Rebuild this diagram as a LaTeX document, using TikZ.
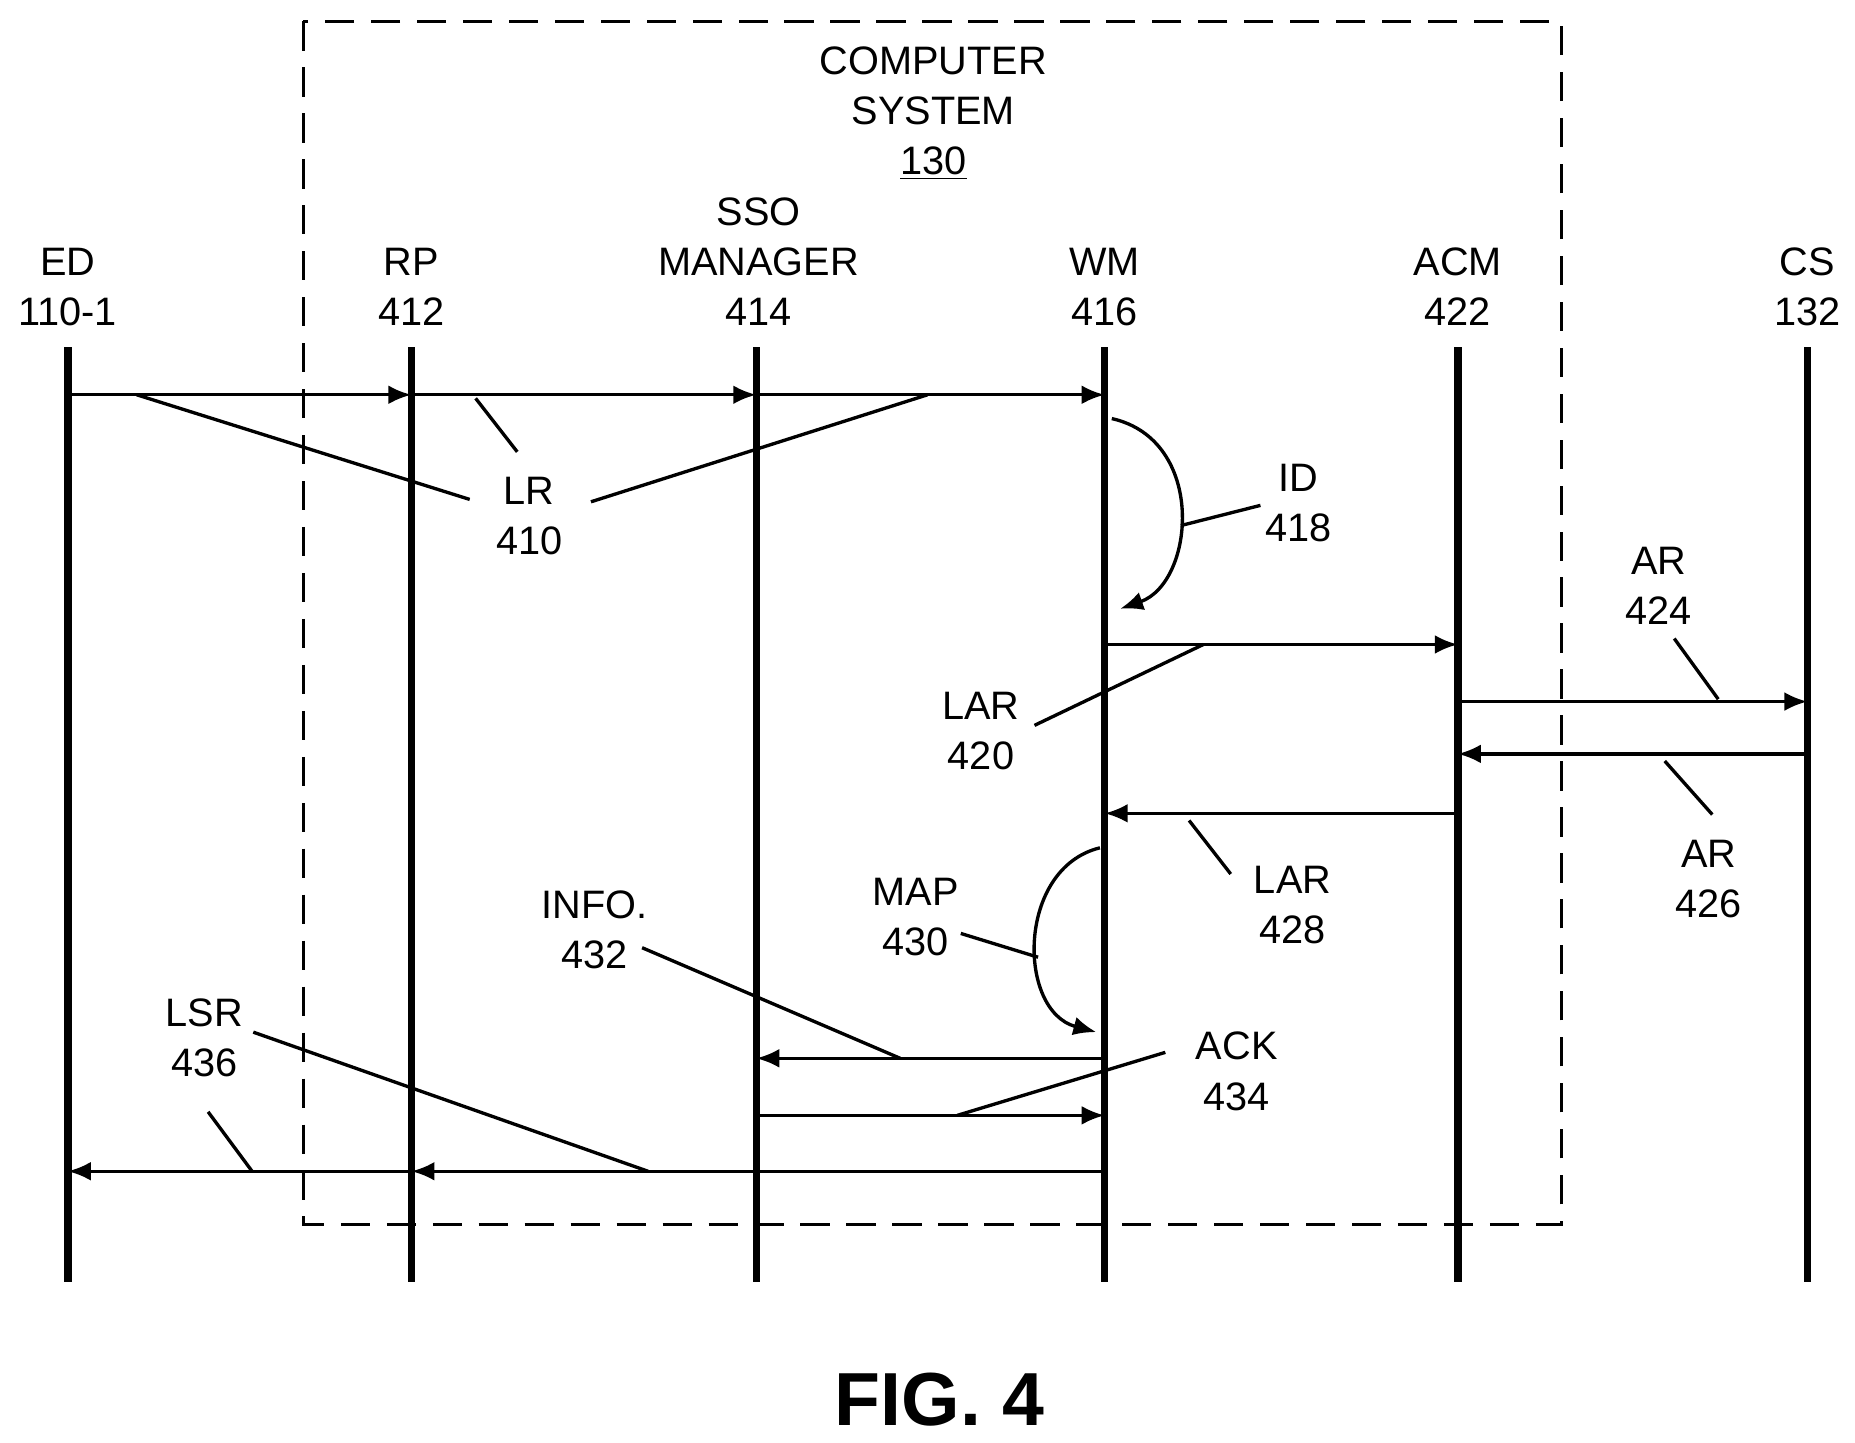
\documentclass[tikz,border=0pt]{standalone}
\usepackage{fontspec}
\setmainfont{Liberation Sans}
\usetikzlibrary{arrows.meta}
\begin{document}
\begin{tikzpicture}[x=0.02cm,y=-0.02cm,
  every node/.style={font=\fontsize{19}{24}\selectfont, align=center},
  life/.style={line width=3.6pt},
  msg/.style={line width=1.6pt, -{Latex[length=11pt,width=9pt]}},
  lead/.style={line width=1.6pt}]
\useasboundingbox (0,0) rectangle (1560,1213);
% frame
\draw[line width=1.6pt, dash pattern=on 14pt off 8pt] (255,18) rectangle (1313,1030);
\node (cs) at (785,95) {COMPUTER\\SYSTEM\\\underline{130}};
% lifelines
\foreach \n/\x/\t in {ed/57/ED\\110-1, rp/346/RP\\412, wm/929/WM\\416, acm/1226/ACM\\422, cs2/1520/CS\\132}{
  \coordinate (\n) at (\x,292);
  \node[anchor=south] at (\x,280) {\t};
  \draw[life] (\n) -- (\x,1078);
}
\coordinate (sso) at (636,292);
\node[anchor=south] at (638,280) {SSO\\MANAGER\\414};
\draw[life] (sso) -- (636,1078);
% messages
\draw[msg] (ed |- 0,332) -- (rp |- 0,332);
\draw[msg] (rp |- 0,332) -- (sso |- 0,332);
\draw[msg] (sso |- 0,332) -- (wm |- 0,332);
\node (lr) at (445,434) {LR\\410};
\draw[lead] (115,332) -- (395,420);
\draw[lead] (400,335) -- (435,380);
\draw[lead] (780,332) -- (497,422);
% ID
\draw[line width=1.6pt, -{Latex[length=11pt,width=9pt]}] (935,352) .. controls (1015,370) and (1005,490) .. (942,512);
\node (id) at (1092,423) {ID\\418};
\draw[lead] (1060,425) -- (993,442);
\draw[msg] (wm |- 0,542) -- (acm |- 0,542);
\node (lar1) at (825,615) {LAR\\420};
\draw[lead] (870,610) -- (1012,542);
\draw[msg] (acm |- 0,590) -- (cs2 |- 0,590);
\node (ar1) at (1395,493) {AR\\424};
\draw[lead] (1408,537) -- (1445,588);
\draw[msg] (cs2 |- 0,634) -- (acm |- 0,634);
\node (ar2) at (1437,739) {AR\\426};
\draw[lead] (1400,640) -- (1440,685);
\draw[msg] (acm |- 0,684) -- (wm |- 0,684);
\node (lar2) at (1087,761) {LAR\\428};
\draw[lead] (1000,690) -- (1035,735);
% MAP
\draw[line width=1.6pt, -{Latex[length=11pt,width=9pt]}] (925,713) .. controls (855,730) and (855,850) .. (922,868);
\node (map) at (770,771) {MAP\\430};
\draw[lead] (808,785) -- (873,805);
\draw[msg] (wm |- 0,890) -- (sso |- 0,890);
\node (info) at (500,782) {INFO.\\432};
\draw[lead] (540,797) -- (757,890);
\draw[msg] (sso |- 0,938) -- (wm |- 0,938);
\node (ack) at (1040,901) {ACK\\434};
\draw[lead] (980,885) -- (805,938);
\draw[msg] (wm |- 0,985) -- (rp |- 0,985);
\draw[msg] (rp |- 0,985) -- (ed |- 0,985);
\node (lsr) at (172,873) {LSR\\436};
\draw[lead] (213,868) -- (545,985);
\draw[lead] (175,935) -- (212,985);
\node[font=\fontsize{36}{42}\selectfont\bfseries] (fig) at (790,1177) {FIG. 4};
\end{tikzpicture}
\end{document}
